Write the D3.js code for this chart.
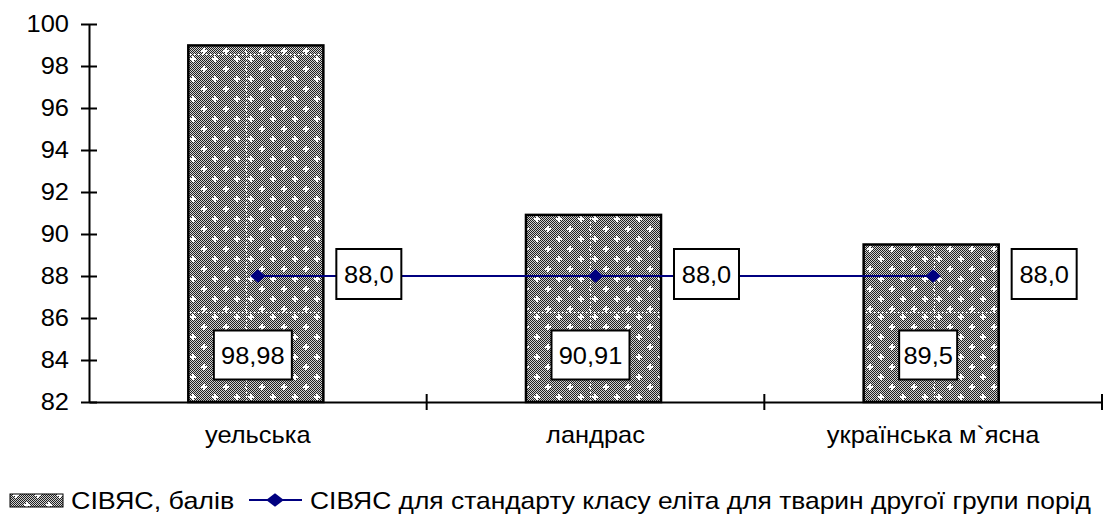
<!DOCTYPE html>
<html>
<head>
<meta charset="utf-8">
<script src="https://cdn.jsdelivr.net/npm/d3@7"></script>
<style>
  html, body { margin: 0; padding: 0; background: #fff; }
  svg { display: block; font-family: Arial, "Liberation Sans", sans-serif; }
</style>
</head>
<body>
<svg id="chart" width="1111" height="518"></svg>
<script>
// Breeds and their scores
const categories = ["уельська", "ландрас", "українська м`ясна"];
const scoreValues = [98.98, 90.91, 89.5];
const scoreLabels = ["98,98", "90,91", "89,5"];
const standardValues = [88.0, 88.0, 88.0];
const standardLabels = ["88,0", "88,0", "88,0"];
const yTicks = [82, 84, 86, 88, 90, 92, 94, 96, 98, 100];
const seriesNames = ["СІВЯС, балів", "СІВЯС для стандарту класу еліта для тварин другої групи порід"];

const svg = d3.select("#chart");
const FONT = 24;
const plotLeft = 89, plotRight = 1102, plotTop = 24, plotBottom = 402;

const x = d3.scaleBand().domain(categories).range([plotLeft, plotRight]);
const y = d3.scaleLinear().domain([82, 100]).range([plotBottom, plotTop]);

// Widen glyphs a little around their anchor point
function stretchX(sel, sx) {
  sel.each(function () {
    const t = d3.select(this);
    const ax = +t.attr("x") || 0;
    t.attr("transform", `translate(${ax},0) scale(${sx},1) translate(${-ax},0)`);
  });
}

// Bar texture: dark checker with white star dots
const defs = svg.append("defs");
const checker = defs.append("pattern")
  .attr("id", "checker").attr("patternUnits", "userSpaceOnUse")
  .attr("width", 2).attr("height", 2);
checker.append("rect").attr("width", 2).attr("height", 2).attr("fill", "#d0d0d0");
checker.append("rect").attr("width", 1).attr("height", 1).attr("fill", "#202020");
checker.append("rect").attr("x", 1).attr("y", 1).attr("width", 1).attr("height", 1).attr("fill", "#202020");

const dots = defs.append("pattern")
  .attr("id", "barFill").attr("patternUnits", "userSpaceOnUse")
  .attr("width", 22).attr("height", 20);
dots.append("rect").attr("width", 22).attr("height", 20).attr("fill", "url(#checker)");
function star(g, sx, sy) {
  g.append("rect").attr("x", sx - 1).attr("y", sy - 3).attr("width", 2).attr("height", 6).attr("fill", "#fff");
  g.append("rect").attr("x", sx - 3).attr("y", sy - 1).attr("width", 6).attr("height", 2).attr("fill", "#fff");
}
star(dots, 5, 5);
star(dots, 16, 15);

// Large texture tile whose edges show as faint dotted seams
const seam = defs.append("pattern")
  .attr("id", "barSeams").attr("patternUnits", "userSpaceOnUse")
  .attr("x", 246).attr("y", 54).attr("width", 344).attr("height", 258);
seam.append("rect").attr("width", 344).attr("height", 258).attr("fill", "url(#barFill)");
seam.append("line").attr("x1", 0).attr("x2", 344).attr("y1", 0.5).attr("y2", 0.5)
  .attr("stroke", "#fff").attr("stroke-width", 1).attr("stroke-dasharray", "2,2");
seam.append("line").attr("x1", 0.5).attr("x2", 0.5).attr("y1", 0).attr("y2", 258)
  .attr("stroke", "#fff").attr("stroke-width", 1).attr("stroke-dasharray", "2,2");

const barW = x.bandwidth() * 0.4;
const cx = d => x(d) + x.bandwidth() / 2 - 2;

// Bars
svg.append("g").selectAll("rect")
  .data(categories)
  .join("rect")
  .attr("x", d => cx(d) - barW / 2)
  .attr("y", (d, i) => y(scoreValues[i]))
  .attr("width", barW)
  .attr("height", (d, i) => y(82) - y(scoreValues[i]))
  .attr("fill", "url(#barSeams)")
  .attr("stroke", "#000")
  .attr("stroke-width", 2.5);

// Y axis
const yAxis = d3.axisLeft(y).tickValues(yTicks).tickSize(0).tickPadding(20).tickFormat(d3.format("d"));
const gy = svg.append("g").attr("transform", `translate(${plotLeft},0)`).call(yAxis);
gy.select(".domain").attr("stroke", "#000").attr("stroke-width", 2);
gy.selectAll(".tick text").attr("font-size", FONT).attr("fill", "#000")
  .attr("font-family", "Arial, 'Liberation Sans', sans-serif");
stretchX(gy.selectAll(".tick text"), 1.06);
gy.selectAll(".tick").append("line").attr("x1", -8).attr("x2", 8).attr("stroke", "#000").attr("stroke-width", 2);

// X axis
const xAxis = d3.axisBottom(x).tickSize(0).tickPadding(24);
const gx = svg.append("g").attr("transform", `translate(0,${plotBottom})`).call(xAxis);
gx.select(".domain").attr("stroke", "#000").attr("stroke-width", 2);
gx.selectAll(".tick text").attr("font-size", FONT).attr("fill", "#000")
  .attr("font-family", "Arial, 'Liberation Sans', sans-serif");
stretchX(gx.selectAll(".tick text"), 1.06);
const sepTicks = categories.map(c => x(c) + x.bandwidth());
gx.selectAll(".sep").data(sepTicks).join("line")
  .attr("x1", d => d).attr("x2", d => d).attr("y1", -8).attr("y2", 8)
  .attr("stroke", "#000").attr("stroke-width", 2);

// Standard line
const px = i => cx(categories[i]) + 2;
const lineGen = d3.line().x((d, i) => px(i)).y(d => y(d));
svg.append("path").datum(standardValues)
  .attr("d", lineGen).attr("fill", "none").attr("stroke", "#000080").attr("stroke-width", 2);
const diamond = d3.symbol().type(d3.symbolDiamond).size(130);
const markerScale = "scale(1.25,0.64)";
svg.append("g").selectAll("path").data(standardValues).join("path")
  .attr("d", diamond)
  .attr("transform", (d, i) => `translate(${px(i)},${y(d)}) ${markerScale}`)
  .attr("fill", "#000080");

// Label boxes
function labelBox(g, text, centerX, centerY, w, h) {
  g.append("rect").attr("x", centerX - w / 2).attr("y", centerY - h / 2)
    .attr("width", w).attr("height", h).attr("fill", "#fff").attr("stroke", "#000").attr("stroke-width", 2);
  const t = g.append("text").attr("x", centerX).attr("y", centerY).attr("dy", "0.36em")
    .attr("text-anchor", "middle").attr("font-size", FONT).text(text);
  stretchX(t, 1.06);
}
const labels = svg.append("g");
categories.forEach((c, i) => {
  const t = scoreLabels[i];
  const w = t.length > 4 ? 78 : 58;
  labelBox(labels, t, cx(c) - 3, y(82) - 47, w, 49);
  labelBox(labels, standardLabels[i], px(i) + 111, y(standardValues[i]) - 2, 65, 50);
});

// Legend
const lg = svg.append("g").attr("font-size", FONT);
const legY = 500;
lg.append("rect").attr("x", 10).attr("y", legY - 6).attr("width", 53).attr("height", 13)
  .attr("fill", "url(#barFill)").attr("stroke", "#000").attr("stroke-width", 1);
const t1 = lg.append("text").attr("x", 71).attr("y", legY).attr("dy", "0.36em").text(seriesNames[0]);
lg.append("line").attr("x1", 249).attr("x2", 302).attr("y1", legY).attr("y2", legY)
  .attr("stroke", "#000080").attr("stroke-width", 2);
lg.append("path").attr("d", diamond).attr("transform", `translate(275,${legY}) scale(1.45,0.64)`).attr("fill", "#000080");
const t2 = lg.append("text").attr("x", 310).attr("y", legY).attr("dy", "0.36em").text(seriesNames[1]);
stretchX(t1, 1.12);
stretchX(t2, 1.10);
</script>
</body>
</html>
